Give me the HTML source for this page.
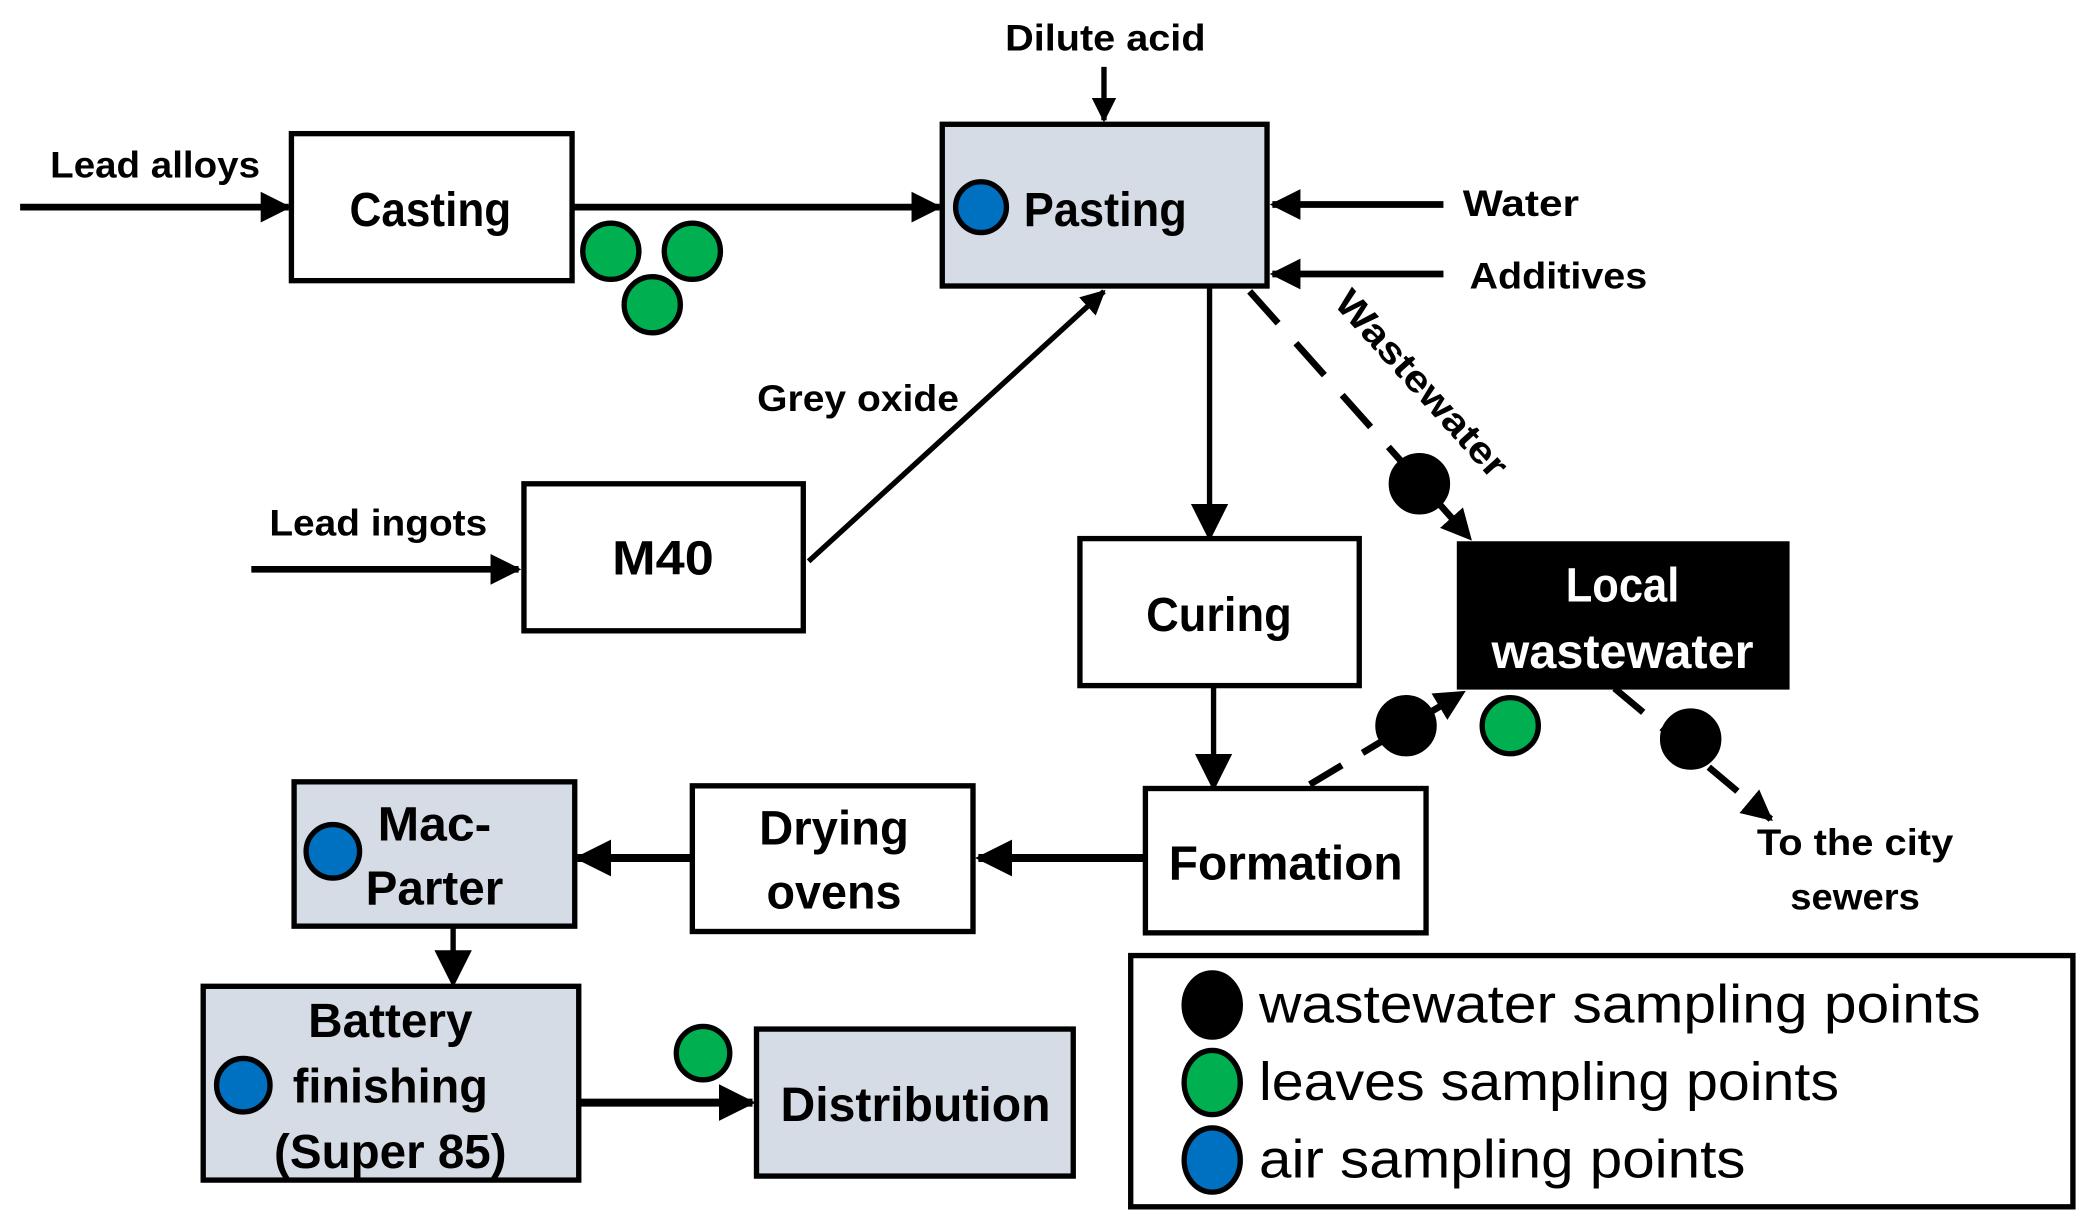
<!DOCTYPE html>
<html><head><meta charset="utf-8"><style>html,body{margin:0;padding:0;background:#fff}svg{display:block}text{font-family:"Liberation Sans",sans-serif;font-weight:bold;fill:#000;dominant-baseline:central;text-anchor:middle}</style></head><body>
<svg width="2085" height="1229" viewBox="0 0 1560 919.6" xmlns="http://www.w3.org/2000/svg">
<defs><marker id="a" markerWidth="5" markerHeight="5" refX="4.2" refY="2.5" orient="auto" markerUnits="strokeWidth"><path d="M0,0.2 L4.6,2.5 L0,4.8 Z" fill="#000"/></marker>
<marker id="b" markerWidth="7" markerHeight="7" refX="6" refY="3.5" orient="auto" markerUnits="strokeWidth"><path d="M0,0 L7,3.5 L0,7 Z" fill="#000"/></marker></defs>
<g stroke="#000" fill="none">
<line x1="826" y1="50" x2="826" y2="90" stroke-width="4" marker-end="url(#a)"/>
<line x1="15" y1="155" x2="216" y2="155" stroke-width="5" marker-end="url(#a)"/>
<line x1="428" y1="155" x2="703" y2="155" stroke-width="5" marker-end="url(#a)"/>
<line x1="1080" y1="153" x2="952" y2="153" stroke-width="5" marker-end="url(#a)"/>
<line x1="1080" y1="205" x2="952" y2="205" stroke-width="5" marker-end="url(#a)"/>
<line x1="605" y1="420" x2="826" y2="218" stroke-width="4" marker-end="url(#a)"/>
<line x1="188" y1="426" x2="388" y2="426" stroke-width="5" marker-end="url(#a)"/>
<line x1="905" y1="214" x2="905" y2="401" stroke-width="4" marker-end="url(#b)"/>
<line x1="935" y1="218" x2="1100" y2="403" stroke-width="5" stroke-dasharray="32,20" marker-end="url(#a)"/>
<line x1="908" y1="513" x2="908" y2="588" stroke-width="4" marker-end="url(#b)"/>
<line x1="980" y1="587" x2="1095" y2="518" stroke-width="5" stroke-dasharray="28,18" marker-end="url(#a)"/>
<line x1="1208" y1="515" x2="1325" y2="613" stroke-width="5" stroke-dasharray="28,18" marker-end="url(#a)"/>
<line x1="857" y1="642" x2="732" y2="642" stroke-width="6" marker-end="url(#a)"/>
<line x1="518" y1="642" x2="432" y2="642" stroke-width="6" marker-end="url(#a)"/>
<line x1="339" y1="693" x2="339" y2="735" stroke-width="4" marker-end="url(#b)"/>
<line x1="433" y1="825" x2="563" y2="825" stroke-width="6" marker-end="url(#a)"/>
<g stroke-width="4">
<rect x="218" y="100" width="210" height="110" fill="#fff"/>
<rect x="705" y="93" width="243" height="121" fill="#d6dce5"/>
<rect x="392" y="362" width="209" height="110" fill="#fff"/>
<rect x="808" y="403" width="209" height="110" fill="#fff"/>
<rect x="1092" y="407" width="245" height="107" fill="#000"/>
<rect x="857" y="590" width="210" height="108" fill="#fff"/>
<rect x="518" y="588" width="210" height="109" fill="#fff"/>
<rect x="220" y="585" width="210" height="108" fill="#d6dce5"/>
<rect x="152" y="738" width="281" height="145" fill="#d6dce5"/>
<rect x="566" y="770" width="237" height="110" fill="#d6dce5"/>
<rect x="846" y="715" width="705" height="188" fill="#fff"/>
<circle cx="457" cy="188" r="21" fill="#00b050"/>
<circle cx="518" cy="188" r="21" fill="#00b050"/>
<circle cx="488" cy="228" r="21" fill="#00b050"/>
<circle cx="734" cy="155" r="19" fill="#0070c0"/>
<circle cx="1062" cy="362" r="21" fill="#000"/>
<circle cx="1052" cy="543" r="21" fill="#000"/>
<circle cx="1130" cy="543" r="21" fill="#00b050"/>
<circle cx="1265" cy="553" r="21" fill="#000"/>
<circle cx="249" cy="637" r="20" fill="#0070c0"/>
<circle cx="182" cy="812" r="20" fill="#0070c0"/>
<circle cx="526" cy="788" r="20" fill="#00b050"/>
<ellipse cx="907" cy="752" rx="21" ry="24" fill="#000"/>
<ellipse cx="907" cy="810" rx="21" ry="24" fill="#00b050"/>
<ellipse cx="907" cy="868" rx="21" ry="24" fill="#0070c0"/>
</g></g>
<g font-size="28">
<text x="827" y="28" textLength="150" lengthAdjust="spacingAndGlyphs">Dilute acid</text>
<text x="116" y="123" textLength="157" lengthAdjust="spacingAndGlyphs">Lead alloys</text>
<text x="642" y="298" textLength="151" lengthAdjust="spacingAndGlyphs">Grey oxide</text>
<text x="283" y="391" textLength="163" lengthAdjust="spacingAndGlyphs">Lead ingots</text>
<text x="1138" y="152" textLength="87" lengthAdjust="spacingAndGlyphs">Water</text>
<text x="1166" y="206" textLength="133" lengthAdjust="spacingAndGlyphs">Additives</text>
<text x="1064" y="287" textLength="178" lengthAdjust="spacingAndGlyphs" transform="rotate(48 1064 287)">Wastewater</text>
<text x="1388" y="630" textLength="147" lengthAdjust="spacingAndGlyphs">To the city</text>
<text x="1388" y="671" textLength="97" lengthAdjust="spacingAndGlyphs">sewers</text>
</g>
<g font-size="36">
<text x="322" y="157" textLength="121" lengthAdjust="spacingAndGlyphs">Casting</text>
<text x="827" y="157" textLength="122" lengthAdjust="spacingAndGlyphs">Pasting</text>
<text x="496" y="418" textLength="76" lengthAdjust="spacingAndGlyphs">M40</text>
<text x="912" y="460" textLength="109" lengthAdjust="spacingAndGlyphs">Curing</text>
<text x="1214" y="438" textLength="85" lengthAdjust="spacingAndGlyphs" style="fill:#fff">Local</text>
<text x="1214" y="488" textLength="196" lengthAdjust="spacingAndGlyphs" style="fill:#fff">wastewater</text>
<text x="962" y="646" textLength="175" lengthAdjust="spacingAndGlyphs">Formation</text>
<text x="624" y="620" textLength="112" lengthAdjust="spacingAndGlyphs">Drying</text>
<text x="624" y="668" textLength="101" lengthAdjust="spacingAndGlyphs">ovens</text>
<text x="325" y="617" textLength="85" lengthAdjust="spacingAndGlyphs">Mac-</text>
<text x="325" y="665" textLength="103" lengthAdjust="spacingAndGlyphs">Parter</text>
<text x="292" y="764" textLength="123" lengthAdjust="spacingAndGlyphs">Battery</text>
<text x="292" y="813" textLength="146" lengthAdjust="spacingAndGlyphs">finishing</text>
<text x="292" y="862" textLength="174" lengthAdjust="spacingAndGlyphs">(Super 85)</text>
<text x="685" y="827" textLength="202" lengthAdjust="spacingAndGlyphs">Distribution</text>
</g>
<g font-size="40">
<text x="942" y="752" textLength="540" lengthAdjust="spacingAndGlyphs" style="text-anchor:start;font-weight:normal">wastewater sampling points</text>
<text x="942" y="810" textLength="434" lengthAdjust="spacingAndGlyphs" style="text-anchor:start;font-weight:normal">leaves sampling points</text>
<text x="942" y="868" textLength="364" lengthAdjust="spacingAndGlyphs" style="text-anchor:start;font-weight:normal">air sampling points</text>
</g>
</svg>
</body></html>
